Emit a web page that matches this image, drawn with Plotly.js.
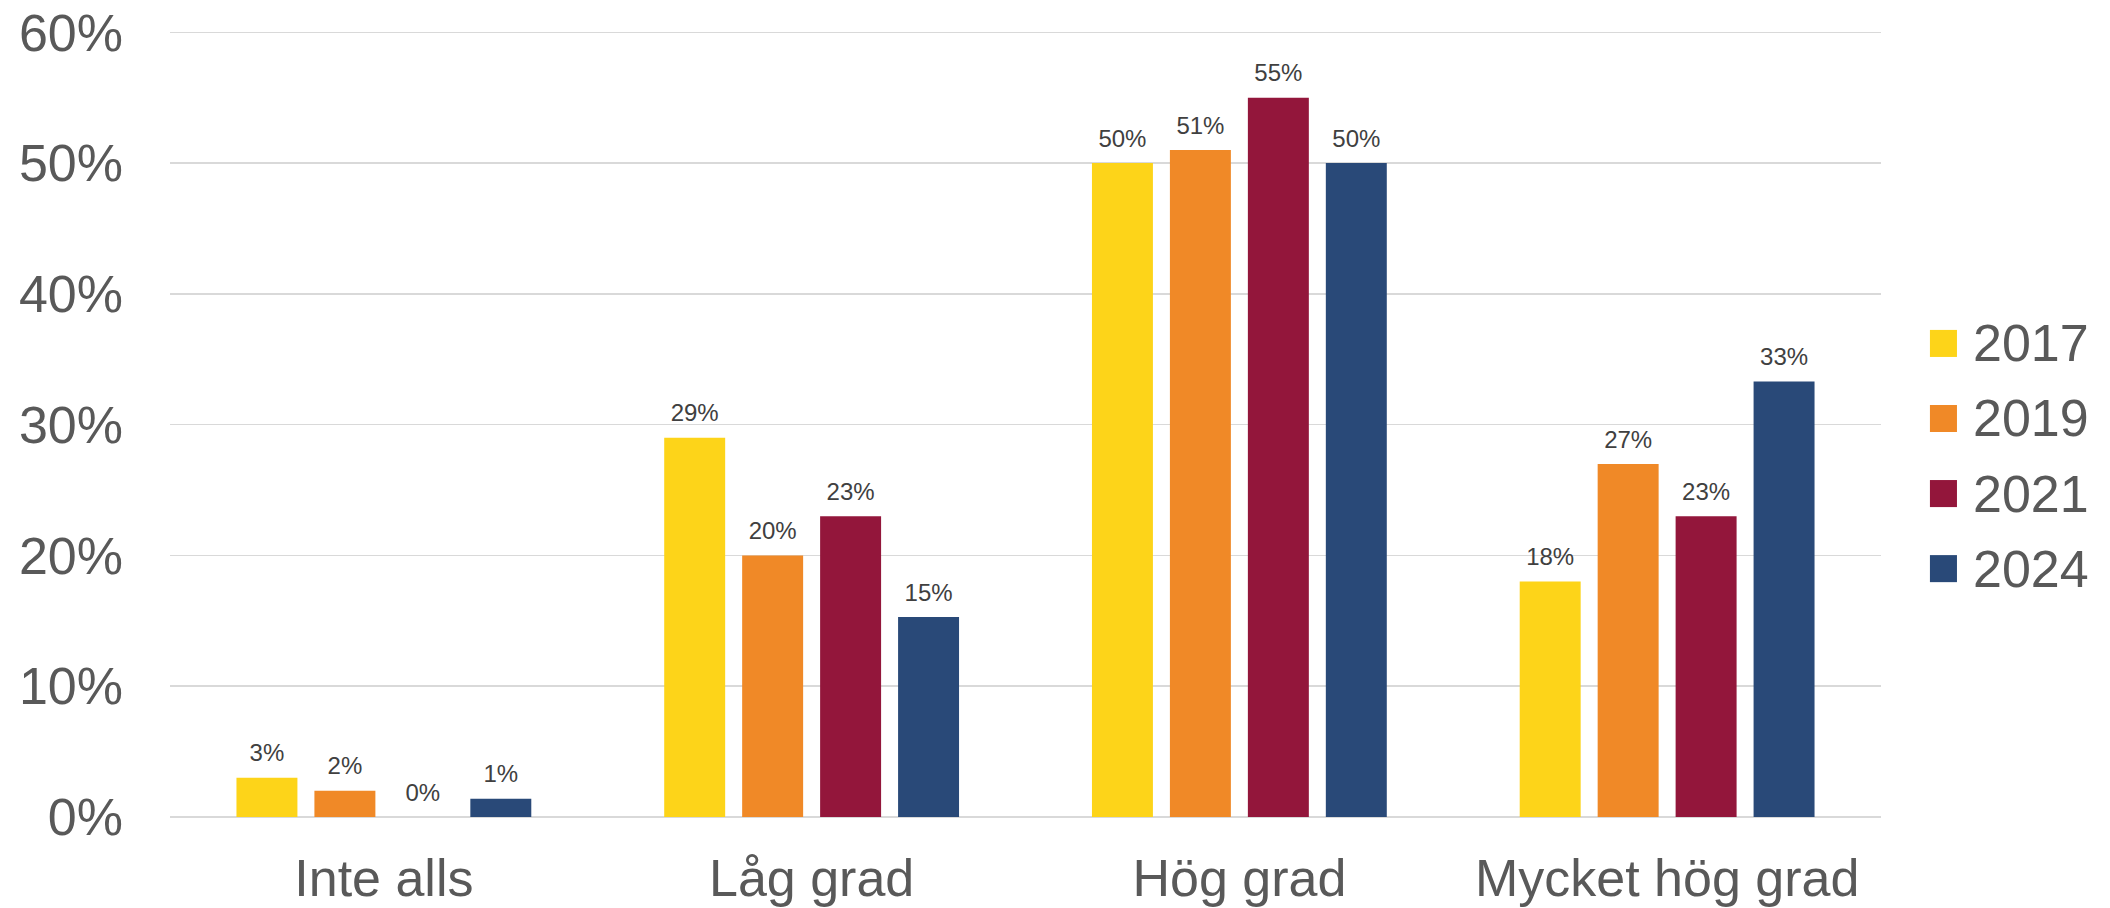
<!DOCTYPE html>
<html>
<head>
<meta charset="utf-8">
<script src="https://cdn.plot.ly/plotly-3.0.1.min.js"></script>
<style>html,body{margin:0;padding:0;background:#fff;}#chart{width:2110px;height:908px;}</style>
</head>
<body>
<div id="chart"></div>
<script>
const categories = ["Inte alls", "Låg grad", "Hög grad", "Mycket hög grad"];
const years = ["2017", "2019", "2021", "2024"];
const values2017 = [3, 29, 50, 18];
const values2019 = [2, 20, 51, 27];
const values2021 = [0, 23, 55, 23];
const values2024 = [1.4, 15.3, 50, 33.3];
const yTicks = [0, 10, 20, 30, 40, 50, 60];
const colors = ["#FDD419", "#F08927", "#93163B", "#294978"];

const series = [values2017, values2019, values2021, values2024];
const FONT = "Liberation Sans, Arial, sans-serif";

const barTraces = series.map((vals, i) => ({
  type: "bar",
  name: years[i],
  x: categories,
  y: vals,
  marker: {color: colors[i]},
  showlegend: false,
  hoverinfo: "skip"
}));

const labelTraces = series.map((vals, i) => ({
  type: "scatter",
  mode: "markers+text",
  name: years[i] + " etiketter",
  x: categories,
  y: vals,
  text: vals.map(v => Math.round(v) + "%"),
  textposition: "top center",
  textfont: {family: FONT, size: 24, color: "#404040"},
  marker: {size: 15, color: "rgba(0,0,0,0)"},
  cliponaxis: false,
  showlegend: false,
  hoverinfo: "skip"
}));

const shapes = [];
const annotations = [];
years.forEach((yr, i) => {
  const yc = 0.6025 - i * 0.0955;
  shapes.push({type: "rect", xref: "paper", yref: "paper",
    x0: 1.0286, x1: 1.0444, y0: yc - 0.0172, y1: yc + 0.0172,
    fillcolor: colors[i], line: {width: 0}});
  annotations.push({xref: "paper", yref: "paper", x: 1.0525, y: yc,
    xanchor: "left", yanchor: "middle", showarrow: false, text: yr,
    font: {family: FONT, size: 52, color: "#595959"}});
});

const layout = {
  width: 2110, height: 908,
  margin: {l: 170, r: 229, t: 31, b: 91, pad: 0},
  paper_bgcolor: "#fff", plot_bgcolor: "#fff",
  barmode: "group",
  bargap: 0.271,
  bargroupgap: 0.218,
  scattermode: "group",
  scattergap: 0.271,
  font: {family: FONT, color: "#595959"},
  xaxis: {
    type: "category",
    showgrid: false,
    showline: false,
    ticks: "",
    ticklabelstandoff: 26,
    tickfont: {family: FONT, size: 52, color: "#595959"}
  },
  yaxis: {
    range: [0, 60.1],
    tickvals: yTicks,
    ticktext: yTicks.map(v => v + "%"),
    showgrid: true,
    gridcolor: "#D9D9D9",
    gridwidth: 1.5,
    zeroline: true,
    zerolinecolor: "#D9D9D9",
    zerolinewidth: 2,
    showline: false,
    ticks: "",
    ticklabelstandoff: 46,
    tickfont: {family: FONT, size: 52, color: "#595959"}
  },
  shapes: shapes,
  annotations: annotations,
  showlegend: false
};

Plotly.newPlot("chart", barTraces.concat(labelTraces), layout, {displayModeBar: false, staticPlot: true});
</script>
</body>
</html>
